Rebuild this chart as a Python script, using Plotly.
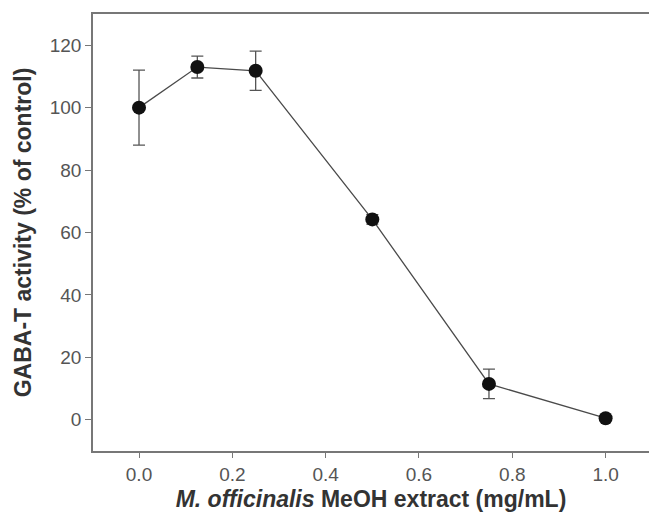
import plotly.graph_objects as go

concentration = [0.0, 0.125, 0.25, 0.5, 0.75, 1.0]
activity = [100.0, 113.0, 111.8, 64.2, 11.5, 0.5]
error = [12.0, 3.5, 6.3, 1.5, 4.7, 0.0]

x_ticks = [0.0, 0.2, 0.4, 0.6, 0.8, 1.0]
x_tick_labels = ["0.0", "0.2", "0.4", "0.6", "0.8", "1.0"]
y_ticks = [0, 20, 40, 60, 80, 100, 120]

fig = go.Figure()
fig.add_trace(go.Scatter(
    x=concentration, y=activity,
    mode="lines+markers",
    line=dict(color="#4a4a4a", width=1.3),
    marker=dict(color="#111111", size=14),
    error_y=dict(type="data", array=error, visible=True, color="#555555", thickness=1.3, width=6),
    showlegend=False,
))

fig.update_layout(
    width=649, height=515,
    margin=dict(l=93, r=0, t=14, b=64),
    plot_bgcolor="white", paper_bgcolor="white",
    font=dict(family="Liberation Sans, Arial, sans-serif", color="#555555", size=19),
    xaxis=dict(
        range=[-0.0986, 1.093],
        tickvals=x_ticks, ticktext=x_tick_labels,
        showgrid=False, zeroline=False,
        showline=True, linecolor="#777777", linewidth=1.5, mirror=True,
        ticks="outside", ticklen=5, tickcolor="#777777",
        tickfont=dict(size=19, color="#555555"),
        title=dict(text="<b><i>M. officinalis</i> MeOH extract (mg/mL)</b>",
                   font=dict(size=23, color="#333333"), standoff=7),
        automargin=False,
    ),
    yaxis=dict(
        range=[-10, 130],
        tickvals=y_ticks,
        showgrid=False, zeroline=False,
        showline=True, linecolor="#777777", linewidth=1.5,
        ticks="outside", ticklen=6, tickcolor="#777777",
        tickfont=dict(size=19, color="#555555"),
        title=dict(text="<b>GABA-T activity (% of control)</b>",
                   font=dict(size=23, color="#333333"), standoff=12),
        automargin=False,
    ),
)

fig.write_html("out.html", config={"displayModeBar": False},
               post_script="document.body.style.margin='0';document.body.style.overflow='hidden';")
